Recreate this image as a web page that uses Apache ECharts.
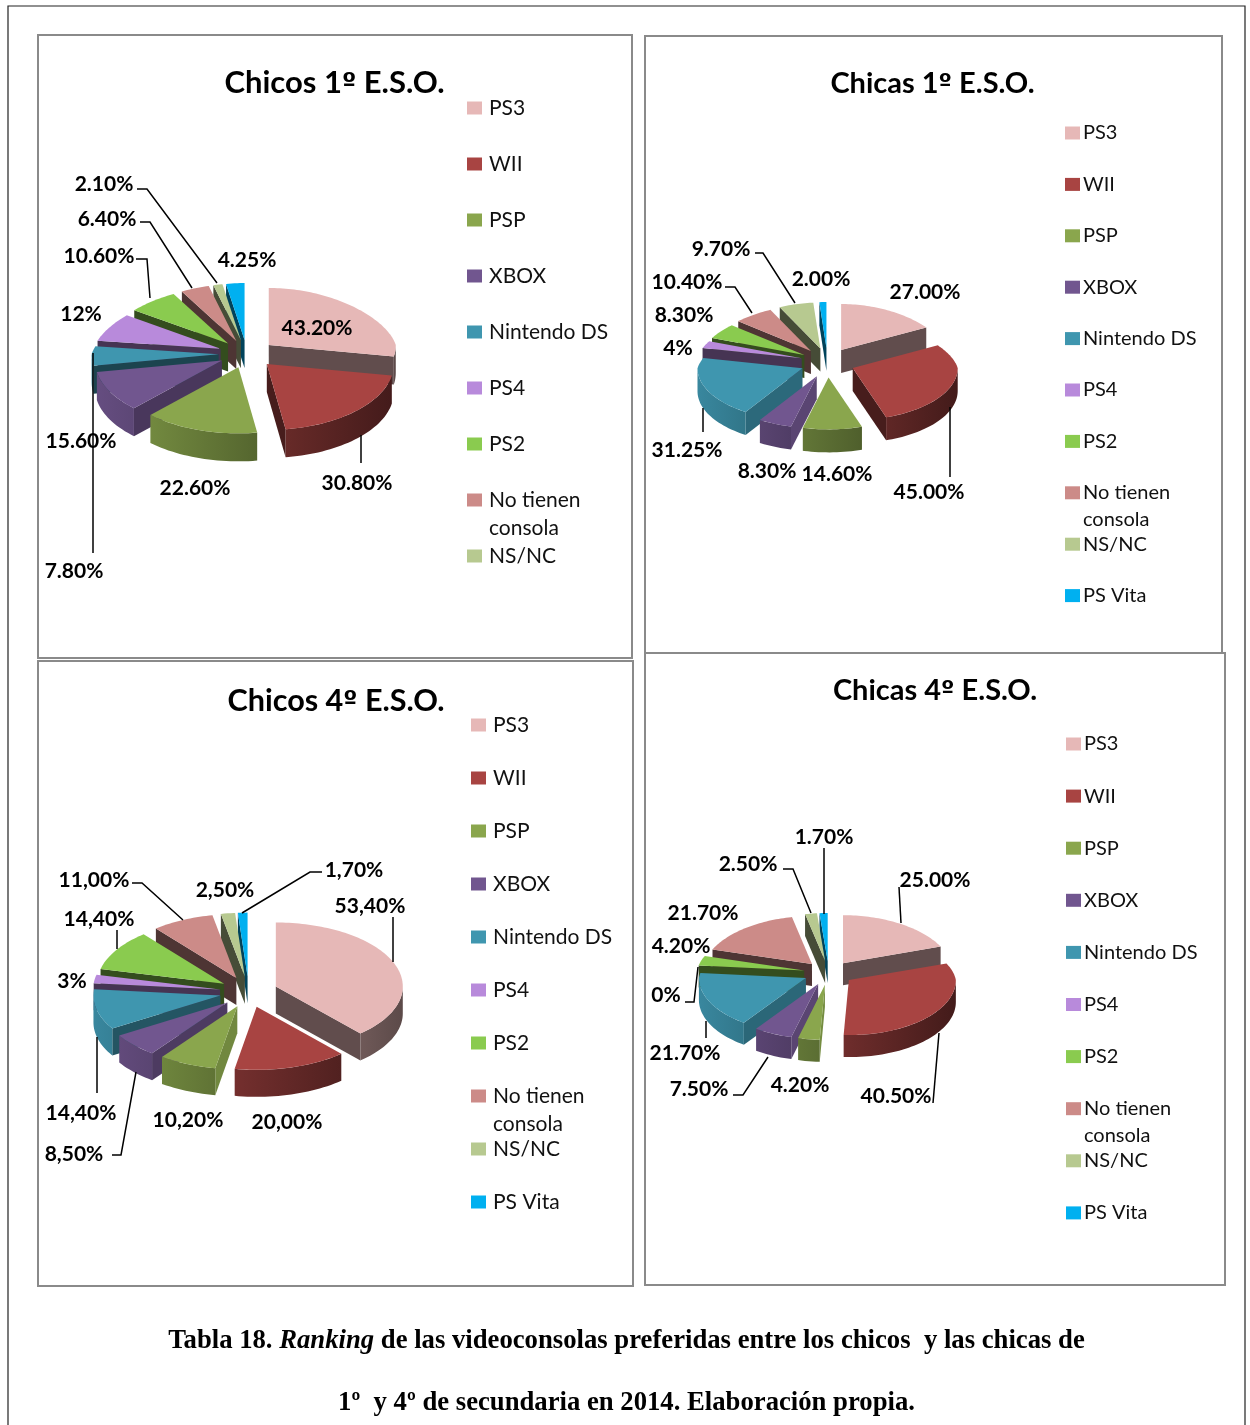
<!DOCTYPE html>
<html><head><meta charset="utf-8">
<style>html,body{margin:0;padding:0;background:#fff}#c{width:1250px;height:1425px}</style>
<script src="https://cdn.jsdelivr.net/npm/echarts@6/dist/echarts.min.js"></script>
</head><body><div id="c"></div>
<script>
const categories = ['PS3','WII','PSP','XBOX','Nintendo DS','PS4','PS2','No tienen consola','NS/NC','PS Vita'];
const chicos1Values = [43.2,30.8,22.6,15.6,7.8,12,10.6,6.4,2.1,4.25];
const chicas1Values = [27,45,14.6,8.3,31.25,4,8.3,10.4,9.7,2];
const chicos4Values = [53.4,20,10.2,8.5,14.4,3,14.4,11,2.5,1.7];
const chicas4Values = [25,40.5,4.2,7.5,21.7,0,4.2,21.7,2.5,1.7];
const chicos1Labels = ['43.20%','30.80%','22.60%','15.60%','7.80%','12%','10.60%','6.40%','2.10%','4.25%'];
const chicas1Labels = ['27.00%','45.00%','14.60%','8.30%','31.25%','4%','8.30%','10.40%','9.70%','2.00%'];
const chicos4Labels = ['53,40%','20,00%','10,20%','8,50%','14,40%','3%','14,40%','11,00%','2,50%','1,70%'];
const chicas4Labels = ['25.00%','40.50%','4.20%','7.50%','21.70%','0%','4.20%','21.70%','2.50%','1.70%'];
const colors = ['#E6B8B7','#A84442','#8AA64D','#71568F','#3F96AF','#B88ADB','#8ACB4F','#CC8B88','#B7C990','#00B0F0'];
const titleParts = [['Chicos 1','º',' E.S.O.'],['Chicas 1','º',' E.S.O.'],['Chicos 4','º',' E.S.O.'],['Chicas 4','º',' E.S.O.']];

// Layout only (pixels of the page), separate from the data.
const layouts = [
 {values:chicos1Values,labels:chicos1Labels,c:[247,354],e:[28.4,14],rx:127,p:0.15,ryB:57,ryF:66,d:28,
  title:[329.5,82,31],legend:{x:467,y:108,step:56,n:9,fs:21,gap:2,xt:22,cons:29},
  lab:[[317,328],[357,483],[195,488],[81,441],[74,571],[81,314],[99,256],[107,219],[104,184],[247,260]],
  lead:[[[361,435],[361,463]],[[93,353],[93,553]],[[136,259],[147,259],[150,298]],[[140,222],[150,222],[192,288]],[[137,189],[147,189],[217,283]]]},
 {values:chicas1Values,labels:chicas1Labels,c:[827.5,362.7],e:[27,14.7],rx:105,p:0.14,ryB:46,ryF:52,d:23,
  title:[927.5,82,29],legend:{x:1065,y:133,step:51.4,n:10,fs:20,gap:-2,xt:18,cons:28},
  lab:[[925,292],[929,492],[837,474],[767,471],[687,450],[678,348],[684,315],[687,282],[721,249],[821,279]],
  lead:[[[950,407],[950,477]],[[703,408],[703,432]],[[725,287],[735,287],[752,313]],[[755,253],[763,253],[795,303]]]},
 {values:chicos4Values,labels:chicos4Labels,c:[248.7,992],e:[29,15.4],rx:127,p:0,ryB:64,ryF:63,d:27,
  title:[331,700,30.6],legend:{x:471,y:725,step:53,n:10,fs:21,gap:2,xt:22,cons:29},
  lab:[[370,906],[287,1122],[188,1120],[74,1154],[81,1113],[72,981],[99,919],[94,880],[225,890],[354,870]],
  lead:[[[393,917],[393,962]],[[112,1155],[121,1155],[136,1072]],[[97,1037],[97,1093]],[[117,930],[117,949]],[[132,883],[142,883],[183,920]],[[322,872],[310,872],[242,913]]]},
 {values:chicas4Values,labels:chicas4Labels,c:[828.7,973],e:[25,12],rx:107,p:0.08,ryB:48,ryF:55,d:22,
  title:[930,689,29],legend:{x:1066,y:744,step:52.1,n:10,fs:20,gap:-2,xt:18,cons:28},
  lab:[[935,880],[896,1096],[800,1085],[699,1089],[685,1053],[666,995],[681,946],[703,913],[748,864],[824,837]],
  lead:[[[899,887],[901,923]],[[939,1033],[933,1103]],[[733,1095],[743,1095],[768,1057]],[[706,1021],[706,1038]],[[685,1002],[694,1002],[698,967]],[[783,869],[793,869],[811,913]],[[824,848],[824,914]]]}
];
const frames = [[38,35,594,623],[645,36,577,617],[38,661,595,625],[645,653,580,632]];

const rad = d => d*Math.PI/180;
function shade(hex,f){
  const n=parseInt(hex.slice(1),16);
  const ch=[n>>16&255,n>>8&255,n&255].map(v=>Math.round(v*f));
  return 'rgb('+ch.join(',')+')';
}
const clamp=(v,a,b)=>Math.max(a,Math.min(b,v));

function sliceRenderer(L,idx,color,a0,a1){
  return function(params,api){
    if(!(api.value(0)>0)) return {type:'group',children:[]};
    const m=rad((a0+a1)/2);
    const ax=L.c[0]+L.e[0]*Math.sin(m), ay=L.c[1]-L.e[1]*Math.cos(m);
    const pt=(deg,dz)=>{const t=rad(deg),c=Math.cos(t);
      return [ax+L.rx*(1-L.p*Math.max(c,0))*Math.sin(t), ay-(c>=0?L.ryB:L.ryF)*c+(dz||0)];};
    const kids=[];
    const poly=(points,fill)=>kids.push({type:'polygon',silent:true,shape:{points},style:{fill,stroke:null}});
    const apex=[ax,ay], apexD=[ax,ay+L.d];
    if(a1>0&&a1<180){ poly([apex,pt(a1),pt(a1,L.d),apexD],shade(color,0.42)); }
    if(a0>180&&a0<360){
      const f=clamp(0.8-0.0053*(a0-194),0.38,0.85);
      poly([apex,pt(a0),pt(a0,L.d),apexD],shade(color,f));
    }
    const s=Math.max(a0,90), e=Math.min(a1,270);
    if(e>s){
      const top=[],bot=[];
      for(let t=s;;t+=2){const tt=Math.min(t,e);top.push(pt(tt));bot.unshift(pt(tt,L.d));if(tt>=e)break;}
      const fs=a=>0.65-0.25*a;
      const sinL=Math.sin(rad(e)),sinR=Math.sin(rad(s));
      poly(top.concat(bot),new echarts.graphic.LinearGradient(0,0,1,0,[
        {offset:0,color:shade(color,fs(Math.min(sinL,sinR)))},
        {offset:1,color:shade(color,fs(Math.max(sinL,sinR)))}]));
    }
    const tp=[apex];
    for(let t=a0;;t+=1.5){const tt=Math.min(t,a1);tp.push(pt(tt));if(tt>=a1)break;}
    poly(tp,color);
    return {type:'group',children:kids};
  };
}

const series=[], legends=[], titleComps=[], graphics=[];
frames.forEach(f=>graphics.push({type:'rect',silent:true,z:1,shape:{x:f[0],y:f[1],width:f[2],height:f[3]},style:{fill:null,stroke:'#8a8a8a',lineWidth:2}}));
graphics.push({type:'polyline',silent:true,z:1,shape:{points:[[8,1425],[8,6],[1245,6],[1245,1425]]},style:{fill:null,stroke:'#222',lineWidth:1.2}});

layouts.forEach((L,ci)=>{
  const total=L.values.reduce((a,b)=>a+b,0);
  let cum=0; const items=[];
  L.values.forEach((v,i)=>{
    const a0=cum/total*360; cum+=v; const a1=cum/total*360;
    items.push({i,a0,a1,v});
  });
  items.sort((p,q)=>(-Math.cos(rad((p.a0+p.a1)/2)))-(-Math.cos(rad((q.a0+q.a1)/2))));
  items.forEach(it=>{
    series.push({type:'custom',name:categories[it.i],coordinateSystem:'none',silent:true,animation:false,
      itemStyle:{color:colors[it.i]},data:[[it.v]],
      renderItem:sliceRenderer(L,it.i,colors[it.i],it.a0,it.a1)});
  });
  const tp=titleParts[ci], tf=L.title[2];
  const tBase={fontFamily:'Lato',fontWeight:'bold',fontSize:tf,color:'#000'};
  titleComps.push({text:'{t|'+tp[0]+'}{o|'+tp[1]+'}{t|'+tp[2]+'}',left:L.title[0],top:L.title[1]-tf*0.62,textAlign:'center',
    textStyle:{rich:{t:tBase,o:{fontFamily:'DejaVu Sans',fontWeight:'bold',fontSize:tf*0.82,color:'#000'}}}});
  const lg=L.legend, lh=22;
  legends.push({orient:'vertical',left:lg.x,top:lg.y-lh/2,itemWidth:15,itemHeight:13,itemGap:lg.step-lh,
    icon:'rect',selectedMode:false,padding:0,
    data:categories.slice(0,lg.n),
    formatter:n=>n==='No tienen consola'?'No tienen':n,
    textStyle:{fontFamily:'Lato',fontSize:lg.fs,color:'#111',lineHeight:lh,padding:[0,0,0,lg.gap]}});
  graphics.push({type:'text',silent:true,z:5,x:lg.x+lg.xt,y:lg.y+7*lg.step+lg.cons-1,
    style:{text:'consola',font:lg.fs+'px Lato',fill:'#111',textVerticalAlign:'middle'}});
  L.lab.forEach((p,i)=>graphics.push({type:'text',silent:true,z:6,x:p[0],y:p[1],
    style:{text:L.labels[i],font:'bold 21px Lato',fill:'#000',textAlign:'center',textVerticalAlign:'middle'}}));
  L.lead.forEach(pts=>graphics.push({type:'polyline',silent:true,z:6,shape:{points:pts},style:{fill:null,stroke:'#000',lineWidth:1.5}}));
});

const caption1='{b|Tabla 18. }{i|Ranking}{b| de las videoconsolas preferidas entre los chicos  y las chicas de}';
const caption2='{b|1º  y 4º de secundaria en 2014. Elaboración propia.}';
const capRich={b:{fontFamily:'Liberation Serif',fontWeight:'bold',fontSize:26.7,color:'#000'},i:{fontFamily:'Liberation Serif',fontWeight:'bold',fontStyle:'italic',fontSize:26.7,color:'#000'}};
titleComps.push({text:caption1,left:621.5,top:1323,textAlign:'center',textStyle:{rich:capRich}});
titleComps.push({text:caption2,left:621.5,top:1385,textAlign:'center',textStyle:{rich:capRich}});

const chart=echarts.init(document.getElementById('c'),null,{renderer:'canvas'});
chart.setOption({backgroundColor:'#fff',animation:false,title:titleComps,legend:legends,series,graphic:{elements:graphics}});
</script></body></html>
